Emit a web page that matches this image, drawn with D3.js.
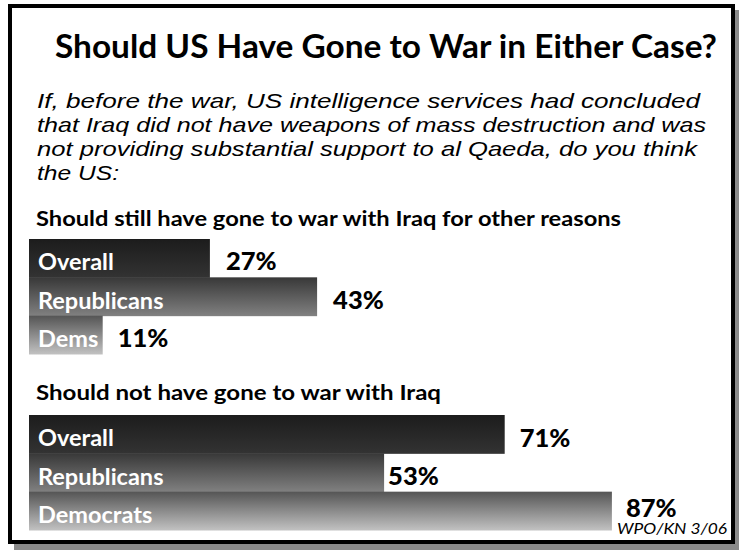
<!DOCTYPE html>
<html>
<head>
<meta charset="utf-8">
<script src="https://cdn.jsdelivr.net/npm/d3@7"></script>
<style>
  html, body { margin: 0; padding: 0; background: #fff; }
  svg { display: block; }
</style>
</head>
<body>
<div id="chart"></div>
<script>
// ---- Data ----
const title = "Should US Have Gone to War in Either Case?";
const questionLines = [
  "If, before the war, US intelligence services had concluded",
  "that Iraq did not have weapons of mass destruction and was",
  "not providing substantial support to al Qaeda, do you think",
  "the US:"
];
const section1Title = "Should still have gone to war with Iraq for other reasons";
const section1Categories = ["Overall", "Republicans", "Dems"];
const section1Values = [27, 43, 11];
const section2Title = "Should not have gone to war with Iraq";
const section2Categories = ["Overall", "Republicans", "Democrats"];
const section2Values = [71, 53, 87];
const source = "WPO/KN 3/06";

// ---- Layout ----
const W = 739, H = 552;
const svg = d3.select("#chart").append("svg").attr("width", W).attr("height", H);
const defs = svg.append("defs");

const gradStops = [
  ["#1c1c1c", "#333333"],
  ["#383838", "#818181"],
  ["#555555", "#c2c2c2"]
];
gradStops.forEach((s, i) => {
  const g = defs.append("linearGradient").attr("id", "g" + i)
    .attr("x1", 0).attr("y1", 0).attr("x2", 0).attr("y2", 1);
  g.append("stop").attr("offset", "0%").attr("stop-color", s[0]);
  g.append("stop").attr("offset", "100%").attr("stop-color", s[1]);
});

// Frame with shadow
svg.append("rect").attr("x", 14).attr("y", 10).attr("width", 725).attr("height", 540).attr("fill", "#8a8a8a");
svg.append("rect").attr("x", 10).attr("y", 6).attr("width", 723).attr("height", 536)
  .attr("fill", "#fff").attr("stroke", "#000").attr("stroke-width", 4);

const FONT = "Lato, 'Open Sans', sans-serif";
const QFONT = "'Liberation Sans', Arial, sans-serif";

svg.append("text").attr("x", 55).attr("y", 58)
  .attr("font-family", FONT).attr("font-weight", "bold").attr("font-size", 32)
  .attr("textLength", 662).attr("lengthAdjust", "spacingAndGlyphs")
  .attr("fill", "#000").text(title);

const qEnds = [700, 706, 697, 119];
svg.selectAll("text.q").data(questionLines).join("text").attr("class", "q")
  .attr("x", 37).attr("y", (d, i) => 108 + i * 24)
  .attr("font-family", QFONT).attr("font-style", "italic").attr("font-size", 21)
  .attr("textLength", (d, i) => qEnds[i] - 37).attr("lengthAdjust", "spacingAndGlyphs")
  .attr("fill", "#000").text(d => d);

const x = d3.scaleLinear().domain([0, 100]).range([29, 699]);

function section(titleText, titleY, titleEnd, cats, vals, y0, y1, gaps, nudges) {
  svg.append("text").attr("x", 36).attr("y", titleY)
    .attr("font-family", FONT).attr("font-weight", "bold").attr("font-size", 21)
    .attr("textLength", titleEnd - 36).attr("lengthAdjust", "spacingAndGlyphs")
    .attr("fill", "#000").text(titleText);
  const y = d3.scaleBand().domain(cats).range([y0, y1]).padding(0);
  const g = svg.append("g");
  g.selectAll("rect").data(cats).join("rect")
    .attr("x", x(0)).attr("y", d => y(d))
    .attr("width", (d, i) => x(vals[i]) - x(0))
    .attr("height", y.bandwidth() + 0.5)
    .attr("fill", (d, i) => `url(#g${i})`);
  g.selectAll("text.lab").data(cats).join("text").attr("class", "lab")
    .attr("x", 38).attr("y", d => y(d) + y.bandwidth() / 2 + 12)
    .attr("font-family", FONT).attr("font-weight", "bold").attr("font-size", 23.5)
    .attr("fill", "#fff").text(d => d);
  g.selectAll("text.val").data(vals).join("text").attr("class", "val")
    .attr("x", (d, i) => x(d) + gaps[i])
    .attr("y", (d, i) => y(cats[i]) + y.bandwidth() / 2 + 12 + nudges[i])
    .attr("font-family", FONT).attr("font-weight", "900").attr("font-size", 25.5)
    .attr("fill", "#000").text(d => d + "%");
}

section(section1Title, 226, 621, section1Categories, section1Values, 239, 354, [16, 16, 15], [0, 0, 0]);
section(section2Title, 400, 441, section2Categories, section2Values, 415, 530, [15, 4, 14], [1, 0, -6]);

svg.append("text").attr("x", 727).attr("y", 534).attr("text-anchor", "end")
  .attr("font-family", FONT).attr("font-style", "italic").attr("font-size", 15)
  .attr("textLength", 110).attr("lengthAdjust", "spacingAndGlyphs")
  .attr("fill", "#000").text(source);
</script>
</body>
</html>
